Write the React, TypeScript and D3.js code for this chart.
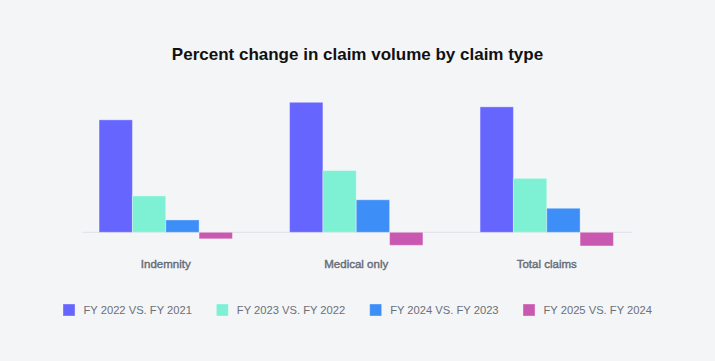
import React from "react";
import * as d3 from "d3";

const categories = ["Indemnity", "Medical only", "Total claims"];
const seriesNames = [
  "FY 2022 VS. FY 2021",
  "FY 2023 VS. FY 2022",
  "FY 2024 VS. FY 2023",
  "FY 2025 VS. FY 2024",
];
const fy2022 = [17.3, 20.0, 19.3];
const fy2023 = [5.6, 9.5, 8.3];
const fy2024 = [1.9, 5.0, 3.7];
const fy2025 = [-1.0, -2.0, -2.1];
const seriesColors = ["#6666ff", "#7ef0d4", "#3d8ef7", "#c958b1"];
const title = "Percent change in claim volume by claim type";

const W = 715;
const H = 361;

export default function App() {
  const series = [fy2022, fy2023, fy2024, fy2025];
  const x0 = d3
    .scaleBand<string>()
    .domain(categories)
    .range([70.5, 642])
    .paddingInner(0.3)
    .paddingOuter(0.15);
  const x1 = d3
    .scaleBand<string>()
    .domain(seriesNames)
    .range([0, x0.bandwidth()])
    .padding(0);
  const y = d3.scaleLinear().domain([0, 20]).range([232.3, 102.3]);
  const legendX = d3.scalePoint<string>().domain(seriesNames).range([63, 523]);

  return (
    <div style={{ position: "fixed", left: 0, top: 0, width: W, height: H }}>
      <svg width={W} height={H} style={{ display: "block", fontFamily: "'Liberation Sans', Arial, Helvetica, sans-serif" }}>
        <rect x={0} y={0} width={W} height={H} fill="#f4f5f7" />
        <text x={357.5} y={59.5} textAnchor="middle" fontSize={17} fontWeight={700} fill="#111111">
          {title}
        </text>
        <line x1={83} x2={632} y1={y(0)} y2={y(0)} stroke="#dfe0e5" strokeWidth={1} />
        {categories.map((c, ci) => (
          <g key={c} transform={`translate(${x0(c)},0)`}>
            {series.map((vals, si) => {
              const v = vals[ci];
              const top = Math.min(y(v), y(0));
              const h = Math.abs(y(v) - y(0));
              return (
                <rect
                  key={si}
                  x={x1(seriesNames[si])}
                  y={top}
                  width={x1.bandwidth()}
                  height={h}
                  fill={seriesColors[si]}
                  stroke="rgba(255,255,255,0.35)"
                  strokeWidth={1}
                />
              );
            })}
            <text
              x={x0.bandwidth() / 2}
              y={267.5}
              textAnchor="middle"
              fontSize={11.5}
              fill="#666b75"
              stroke="#666b75"
              strokeWidth={0.4}
            >
              {c}
            </text>
          </g>
        ))}
        {seriesNames.map((s, si) => (
          <g key={s} transform={`translate(${legendX(s)},0)`}>
            <rect x={0} y={304} width={12} height={12} fill={seriesColors[si]} stroke="rgba(255,255,255,0.35)" strokeWidth={1} />
            <text x={20.5} y={314.2} fontSize={11.2} fill="#6b7079">
              {s}
            </text>
          </g>
        ))}
      </svg>
    </div>
  );
}
